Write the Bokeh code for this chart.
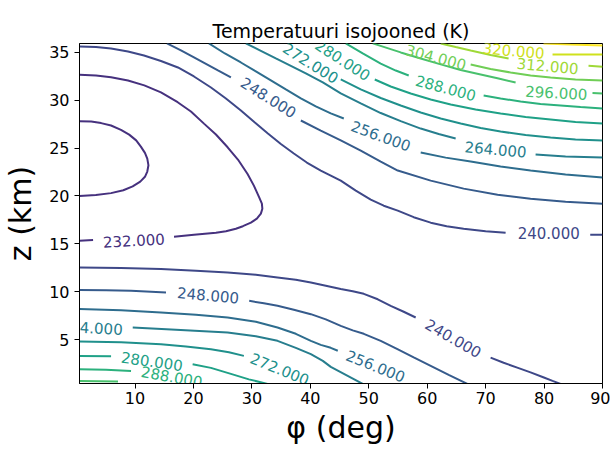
from bokeh.plotting import figure
from bokeh.models import FixedTicker, Range1d
from bokeh.palettes import Viridis256
from bokeh.embed import file_html
from bokeh.resources import INLINE
from bokeh.core.properties import value

# contour levels (K) and the colour-scale limits of the colormap
levels = [232, 240, 248, 256, 264, 272, 280, 288, 296, 304, 312, 320, 328]
color_min, color_max = 216, 328

# contour segments: phi (deg), z (km)
c232_loop_phi = [0.5, 2.5, 4.2, 5.9, 7.6, 9.0, 10.2, 11.0, 11.7, 12.1, 12.3, 12.1, 11.7, 10.9, 9.6, 8.0, 5.9, 3.3, 0.5]
c232_loop_z = [27.8, 27.76, 27.6, 27.35, 26.9, 26.4, 25.8, 25.15, 24.5, 23.9, 23.2, 22.55, 22.0, 21.5, 21.0, 20.6, 20.3, 20.1, 20.0]
c232_outer_phi = [0.5, 3.33, 5.9, 8.8, 11.59, 14.44, 17.3, 19.57, 21.85, 23.85, 25.85, 27.61, 29.26, 30.34, 31.25,
                  31.71, 31.79, 31.54, 30.85, 29.83, 28.46, 27.26, 25.56, 23.85, 20.09, 16.67]
c232_outer_z = [32.64, 32.57, 32.39, 32.05, 31.53, 30.8, 29.78, 28.81, 27.52, 26.41, 25.08, 23.8, 22.3, 21.08, 19.86,
                19.2, 18.68, 18.16, 17.64, 17.22, 16.85, 16.59, 16.33, 16.17, 15.96, 15.75]
c232_tail_phi = [0.5, 2.82]
c232_tail_z = [15.34, 15.41]

c240_up_a_phi = [0.5, 3.33, 5.9, 8.8, 11.54, 14.44, 17.35, 20.09, 23.0, 25.56, 28.12, 30.51, 32.74, 34.96, 37.18,
                 39.4, 41.79, 43.5, 45.21, 47.78, 50.34, 52.56, 54.96, 57.69, 60.6, 63.33, 66.24, 70.0, 73.42]
c240_up_a_z = [35.6, 35.54, 35.39, 35.07, 34.65, 34.08, 33.4, 32.46, 31.31, 30.16, 28.91, 27.66, 26.51, 25.42, 24.43,
               23.49, 22.65, 22.13, 21.6, 20.56, 19.62, 18.99, 18.47, 17.79, 17.22, 16.85, 16.59, 16.33, 16.17]
c240_up_b_phi = [87.9, 90.0]
c240_up_b_z = [15.96, 15.96]
c240_lo_a_phi = [0.5, 7.61, 14.44, 20.43, 25.85, 30.68, 34.38, 37.52, 40.09, 42.65, 45.21, 47.26, 49.15, 51.54,
                 53.76, 55.98, 58.03]
c240_lo_a_z = [12.55, 12.49, 12.38, 12.21, 12.03, 11.79, 11.51, 11.27, 10.98, 10.64, 10.3, 10.07, 9.8, 9.23,
               8.55, 7.93, 7.33]
c240_lo_b_phi = [70.85, 73.08, 75.41, 77.69, 79.97, 81.45, 82.82]
c240_lo_b_z = [3.15, 2.61, 2.11, 1.61, 1.07, 0.72, 0.41]

c248_up_a_phi = [15.47, 17.86, 20.09, 22.14, 24.19, 26.41]
c248_up_a_z = [35.91, 35.18, 34.45, 33.77, 33.09, 32.36]
c248_up_b_phi = [38.38, 41.79, 45.21, 48.63, 52.05, 54.96, 60.6, 66.24, 72.05, 77.69, 83.68, 90.0]
c248_up_b_z = [27.87, 26.82, 25.79, 24.74, 23.59, 22.65, 21.6, 20.77, 20.14, 19.72, 19.41, 19.2]
c248_lo_a_phi = [0.5, 5.04, 9.32, 15.3]
c248_lo_a_z = [10.19, 10.16, 10.12, 9.94]
c248_lo_b_phi = [29.54, 32.05, 34.39, 37.18, 40.09, 42.65, 45.21, 47.26, 49.15, 52.05, 54.91, 57.69, 60.6, 63.68, 66.87]
c248_lo_b_z = [9.07, 8.81, 8.55, 8.13, 7.68, 7.14, 6.46, 5.99, 5.63, 4.9, 4.03, 3.17, 2.29, 1.35, 0.41]

c256_up_a_phi = [22.65, 25.38, 28.12, 30.68, 33.25, 35.81, 38.38, 40.94, 43.5, 45.73]
c256_up_a_z = [35.91, 34.86, 33.92, 32.99, 32.05, 31.11, 30.17, 29.34, 28.61, 28.08]
c256_up_b_phi = [58.89, 63.16, 67.44, 72.56, 77.69, 83.68, 90.0]
c256_up_b_z = [24.53, 24.0, 23.59, 23.07, 22.65, 22.23, 21.92]
c256_lo_phi = [0.5, 7.61, 14.44, 20.43, 25.85, 30.68, 34.38, 37.52, 40.09, 41.79, 43.5, 44.7]
c256_lo_z = [8.21, 8.08, 7.85, 7.61, 7.33, 6.88, 6.29, 5.63, 4.9, 4.48, 4.17, 3.86]

c264_up_a_phi = [28.97, 31.54, 34.1, 36.67, 39.23, 42.14, 45.21, 48.63, 52.05, 55.47, 58.89, 61.97, 64.87]
c264_up_a_z = [35.91, 35.13, 34.34, 33.56, 32.78, 31.84, 30.69, 29.65, 28.65, 27.8, 27.03, 26.46, 25.99]
c264_up_b_phi = [78.55, 83.68, 90.0]
c264_up_b_z = [24.32, 24.11, 24.01]
c264_lo_phi = [9.61, 17.01, 25.85, 30.68, 34.39, 37.52, 40.09, 42.14, 43.5, 46.07, 48.97]
c264_lo_z = [6.29, 6.05, 5.76, 5.37, 4.9, 4.17, 3.51, 2.81, 2.18, 1.35, 0.41]

c272_up_phi = [45.21, 48.63, 52.05, 55.47, 58.89, 62.31, 65.73, 69.15, 72.56, 76.84, 81.11, 85.38, 90.0]
c272_up_z = [32.15, 31.11, 30.22, 29.43, 28.7, 28.08, 27.56, 27.09, 26.72, 26.35, 26.09, 25.89, 25.78]
c272_lo_phi = [0.5, 7.61, 14.44, 18.72, 22.99, 26.07, 28.63]
c272_lo_z = [4.82, 4.74, 4.55, 4.32, 4.03, 3.7, 3.33]

c280_up_phi = [51.03, 53.76, 57.18, 60.6, 64.02, 68.29, 72.56, 76.84, 81.11, 85.38, 90.0]
c280_up_z = [32.15, 31.42, 30.69, 30.06, 29.54, 29.02, 28.6, 28.23, 27.97, 27.71, 27.56]
c280_lo_a_phi = [0.5, 5.9]
c280_lo_a_z = [3.33, 3.3]
c280_lo_b_phi = [19.86, 22.99, 26.41, 29.49, 32.68]
c280_lo_b_z = [2.46, 2.08, 1.45, 0.88, 0.41]

c288_up_a_phi = [46.07, 48.97, 52.05, 54.62, 56.84]
c288_up_a_z = [35.91, 34.86, 33.81, 33.08, 32.56]
c288_up_b_phi = [69.66, 72.56, 75.98, 79.4, 82.82, 86.24, 90.0]
c288_up_b_z = [30.48, 30.17, 29.85, 29.59, 29.44, 29.28, 29.12]
c288_lo_phi = [0.5, 5.04, 9.32]
c288_lo_z = [1.94, 1.89, 1.76]

c296_up_a_phi = [50.68, 53.08, 55.47, 58.89, 62.31, 65.73, 69.15, 72.22, 75.13]
c296_up_a_z = [35.91, 35.44, 34.97, 34.34, 33.72, 33.14, 32.67, 32.25, 31.83]
c296_up_b_phi = [88.29, 90.0]
c296_up_b_z = [30.74, 30.69]
c296_lo_phi = [0.5, 7.09]
c296_lo_z = [0.72, 0.67]

c304_phi = [67.44, 70.85, 74.27, 77.69, 81.11, 85.38, 90.0]
c304_z = [33.72, 33.25, 32.88, 32.56, 32.36, 32.15, 32.05]

c312_a_phi = [62.31, 64.87, 67.44, 70.85, 73.93]
c312_a_z = [35.91, 35.54, 35.18, 34.71, 34.34]
c312_b_phi = [87.61, 90.0]
c312_b_z = [33.58, 33.47]

c320_phi = [81.45, 85.38, 90.0]
c320_z = [34.76, 34.76, 34.76]

c328_phi = [79.9, 84.5, 90.0]
c328_z = [35.9, 35.8, 35.7]

segments = [
    (232, c232_loop_phi, c232_loop_z), (232, c232_outer_phi, c232_outer_z), (232, c232_tail_phi, c232_tail_z),
    (240, c240_up_a_phi, c240_up_a_z), (240, c240_up_b_phi, c240_up_b_z),
    (240, c240_lo_a_phi, c240_lo_a_z), (240, c240_lo_b_phi, c240_lo_b_z),
    (248, c248_up_a_phi, c248_up_a_z), (248, c248_up_b_phi, c248_up_b_z),
    (248, c248_lo_a_phi, c248_lo_a_z), (248, c248_lo_b_phi, c248_lo_b_z),
    (256, c256_up_a_phi, c256_up_a_z), (256, c256_up_b_phi, c256_up_b_z), (256, c256_lo_phi, c256_lo_z),
    (264, c264_up_a_phi, c264_up_a_z), (264, c264_up_b_phi, c264_up_b_z), (264, c264_lo_phi, c264_lo_z),
    (272, c272_up_phi, c272_up_z), (272, c272_lo_phi, c272_lo_z),
    (280, c280_up_phi, c280_up_z), (280, c280_lo_a_phi, c280_lo_a_z), (280, c280_lo_b_phi, c280_lo_b_z),
    (288, c288_up_a_phi, c288_up_a_z), (288, c288_up_b_phi, c288_up_b_z), (288, c288_lo_phi, c288_lo_z),
    (296, c296_up_a_phi, c296_up_a_z), (296, c296_up_b_phi, c296_up_b_z), (296, c296_lo_phi, c296_lo_z),
    (304, c304_phi, c304_z),
    (312, c312_a_phi, c312_a_z), (312, c312_b_phi, c312_b_z),
    (320, c320_phi, c320_z),
    (328, c328_phi, c328_z),
]

# inline contour labels: level, phi, z, angle (deg)
label_level = [232, 240, 240, 248, 248, 256, 256, 264, 264, 272, 272, 280, 280, 288, 288, 296, 304, 312, 320]
label_phi = [9.8, 80.8, 64.5, 32.9, 22.5, 52.1, 51.2, 71.7, 2.6, 40.1, 34.8, 45.6, 12.9, 63.2, 16.3, 82.1, 61.5, 80.6, 74.8]
label_z = [15.4, 16.1, 5.2, 30.3, 9.7, 26.3, 2.3, 24.9, 6.3, 33.9, 2.0, 34.2, 2.8, 31.3, 1.2, 30.8, 34.5, 33.6, 35.2]
label_angle = [3, 0, -30, -32, -5, -20, -22, -5, -3, -32, -22, -33, -8, -15, -10, -3, -15, -5, -5]

x_ticks = [10, 20, 30, 40, 50, 60, 70, 80, 90]
y_ticks = [5, 10, 15, 20, 25, 30, 35]


def level_color(lv):
    t = (lv - color_min) / (color_max - color_min)
    return Viridis256[int(round(t * 255))]


p = figure(width=610, height=450, x_range=Range1d(0.5, 90), y_range=Range1d(0.45, 35.9),
           output_backend="svg", toolbar_location=None,
           min_border_left=78, min_border_right=8, min_border_top=43, min_border_bottom=67,
           title="Temperatuuri isojooned (K)")

for lv in levels:
    xs = [s[1] for s in segments if s[0] == lv]
    ys = [s[2] for s in segments if s[0] == lv]
    if xs:
        p.multi_line(xs=xs, ys=ys, line_color=level_color(lv), line_width=2)

p.text(x=label_phi, y=label_z, text=["%.3f" % lv for lv in label_level],
       angle=label_angle, angle_units="deg",
       text_color=[level_color(lv) for lv in label_level],
       text_font=value("DejaVu Sans"), text_font_size="15px",
       text_align="center", text_baseline="middle")

p.xgrid.visible = False
p.ygrid.visible = False
p.outline_line_color = "black"
p.outline_line_width = 1
p.outline_line_alpha = 1

p.title.align = "center"
p.title.text_font = "DejaVu Sans"
p.title.text_font_size = "19px"
p.title.text_font_style = "normal"
p.title.text_color = "black"
p.title.standoff = 3

for ax in (p.xaxis[0], p.yaxis[0]):
    ax.axis_line_color = "black"
    ax.major_tick_line_color = "black"
    ax.minor_tick_line_color = None
    ax.major_tick_out = 5
    ax.major_tick_in = 0
    ax.major_label_text_font = "DejaVu Sans"
    ax.major_label_text_font_size = "16px"
    ax.major_label_text_color = "black"
    ax.axis_label_text_font = "DejaVu Sans"
    ax.axis_label_text_font_size = "30px"
    ax.axis_label_text_font_style = "normal"
    ax.axis_label_text_color = "black"

p.xaxis.major_label_standoff = 3
p.xaxis.axis_label_standoff = 3
p.yaxis.major_label_standoff = 5
p.yaxis.axis_label_standoff = 8

p.xaxis.ticker = FixedTicker(ticks=x_ticks)
p.yaxis.ticker = FixedTicker(ticks=y_ticks)
p.xaxis.axis_label = "φ (deg)"
p.yaxis.axis_label = "z (km)"

open("out.html", "w").write(file_html(p, INLINE))
